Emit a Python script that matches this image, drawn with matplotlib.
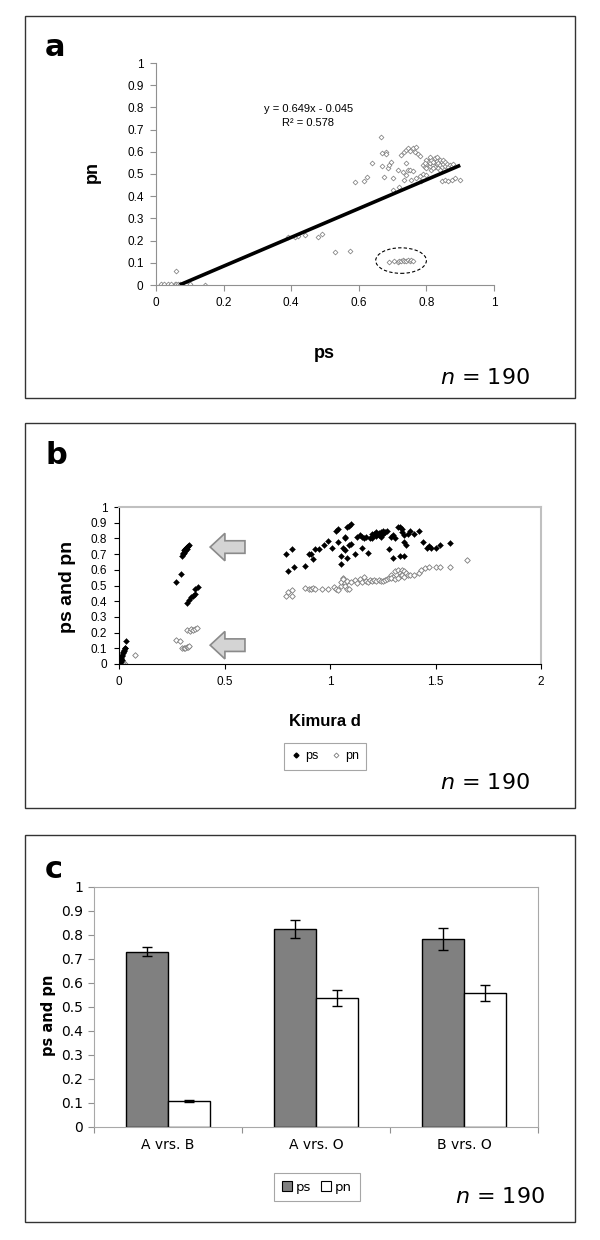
import matplotlib
matplotlib.use("Agg")
import matplotlib.pyplot as plt
from matplotlib.patches import Rectangle, Ellipse, FancyArrow, Patch
from matplotlib.lines import Line2D

# ---------------- data ----------------
# Panel a: ps vs pn
a_ps = [0.015, 0.025, 0.035, 0.045, 0.055, 0.06, 0.065, 0.07, 0.08, 0.09, 0.10, 0.145, 0.06,
        0.39, 0.41, 0.42, 0.44, 0.48, 0.49, 0.53, 0.575,
        0.69, 0.705, 0.715, 0.72, 0.725, 0.73, 0.735, 0.74, 0.745, 0.75, 0.755, 0.76,
        0.59, 0.615, 0.625, 0.64, 0.665, 0.67, 0.68, 0.68, 0.67, 0.675, 0.685, 0.69, 0.695, 0.70, 0.70,
        0.715, 0.72, 0.725, 0.73, 0.735, 0.74, 0.745, 0.74, 0.745, 0.75, 0.75, 0.755, 0.76, 0.76,
        0.735, 0.74, 0.765, 0.77, 0.775, 0.78, 0.78, 0.785, 0.79, 0.80, 0.77,
        0.79, 0.795, 0.80, 0.80, 0.805, 0.81, 0.81, 0.815, 0.815, 0.82, 0.82, 0.825, 0.825, 0.83,
        0.83, 0.835, 0.835, 0.84, 0.84, 0.845, 0.845, 0.85, 0.85, 0.855, 0.855, 0.86, 0.865, 0.87,
        0.875, 0.88, 0.81, 0.83, 0.80, 0.795, 0.82, 0.84,
        0.845, 0.855, 0.865, 0.875, 0.885, 0.90]
a_pn = [0.005, 0.005, 0.005, 0.005, 0.005, 0.005, 0.005, 0.005, 0.005, 0.005, 0.003, 0.0, 0.062,
        0.215, 0.215, 0.22, 0.225, 0.215, 0.23, 0.148, 0.152,
        0.105, 0.108, 0.105, 0.11, 0.108, 0.112, 0.11, 0.108, 0.112, 0.108, 0.112, 0.11,
        0.465, 0.47, 0.485, 0.55, 0.665, 0.595, 0.60, 0.59, 0.535, 0.485, 0.525, 0.54, 0.555, 0.48, 0.43,
        0.52, 0.44, 0.585, 0.51, 0.60, 0.61, 0.615, 0.55, 0.52, 0.52, 0.605, 0.475, 0.615, 0.515,
        0.475, 0.495, 0.60, 0.62, 0.59, 0.58, 0.49, 0.47, 0.50, 0.495, 0.48,
        0.54, 0.53, 0.545, 0.525, 0.56, 0.535, 0.55, 0.52, 0.565, 0.54, 0.555, 0.53, 0.57, 0.545,
        0.56, 0.525, 0.55, 0.565, 0.54, 0.555, 0.53, 0.545, 0.565, 0.535, 0.555, 0.545, 0.53, 0.54,
        0.535, 0.545, 0.575, 0.575, 0.565, 0.55, 0.525, 0.52,
        0.47, 0.472, 0.47, 0.475, 0.48, 0.472]
fit_slope = 0.649
fit_intercept = -0.045
fit_x = [0.07, 0.90]

# Panel b: Kimura d vs ps and pn
b_d_ps = [0.002, 0.005, 0.008, 0.01, 0.012, 0.015, 0.018, 0.02, 0.022, 0.025, 0.027, 0.03, 0.032, 0.01, 0.015,
          0.27, 0.295, 0.30, 0.305, 0.31, 0.312, 0.315, 0.318, 0.32, 0.325, 0.33, 0.32, 0.31, 0.305,
          0.32, 0.33, 0.34, 0.35, 0.36, 0.36, 0.375,
          0.79, 0.80, 0.82, 0.83, 0.88, 0.90, 0.91, 0.92, 0.93, 0.95, 0.97, 0.99, 1.01, 1.03, 1.04,
          1.04, 1.05, 1.05, 1.06, 1.07, 1.07, 1.08, 1.09, 1.10, 1.07, 1.08, 1.09, 1.10, 1.12, 1.13,
          1.14, 1.15, 1.15, 1.16, 1.17, 1.18, 1.19, 1.20, 1.20, 1.21, 1.22, 1.22, 1.23, 1.24, 1.25,
          1.26, 1.27, 1.28, 1.29, 1.30, 1.30, 1.31, 1.32, 1.33, 1.33, 1.34, 1.34, 1.35, 1.35, 1.35,
          1.36, 1.37, 1.38, 1.40, 1.42, 1.44, 1.46, 1.47, 1.48, 1.50, 1.52, 1.57, 1.25, 1.23, 1.24]
b_ps = [0.005, 0.02, 0.03, 0.04, 0.05, 0.06, 0.07, 0.075, 0.08, 0.09, 0.10, 0.105, 0.145, 0.01, 0.025,
        0.525, 0.575, 0.69, 0.70, 0.71, 0.72, 0.73, 0.74, 0.745, 0.75, 0.755, 0.735, 0.725, 0.705,
        0.39, 0.41, 0.425, 0.435, 0.445, 0.48, 0.49,
        0.70, 0.59, 0.73, 0.62, 0.625, 0.70, 0.70, 0.67, 0.73, 0.735, 0.755, 0.785, 0.74, 0.85, 0.86,
        0.78, 0.69, 0.64, 0.74, 0.81, 0.80, 0.87, 0.88, 0.89, 0.725, 0.675, 0.755, 0.765, 0.70, 0.81,
        0.82, 0.81, 0.74, 0.80, 0.81, 0.71, 0.80, 0.83, 0.80, 0.83, 0.84, 0.815, 0.835, 0.84, 0.845,
        0.84, 0.85, 0.73, 0.81, 0.82, 0.675, 0.80, 0.875, 0.87, 0.69, 0.86, 0.84, 0.69, 0.82, 0.78,
        0.76, 0.83, 0.85, 0.83, 0.845, 0.78, 0.74, 0.75, 0.74, 0.74, 0.755, 0.77, 0.83, 0.82, 0.81]
b_d_pn = [0.005, 0.01, 0.015, 0.02, 0.025, 0.03, 0.075, 0.02,
          0.27, 0.29, 0.30, 0.31, 0.315, 0.32, 0.325, 0.33, 0.32, 0.335, 0.34, 0.35, 0.36, 0.37,
          0.79, 0.80, 0.82, 0.82, 0.88, 0.90, 0.91, 0.92, 0.93, 0.96, 0.99, 1.02, 1.03, 1.04, 1.05,
          1.05, 1.06, 1.06, 1.07, 1.07, 1.08, 1.08, 1.09, 1.10, 1.12, 1.13, 1.14, 1.15, 1.16, 1.17,
          1.18, 1.19, 1.20, 1.21, 1.22, 1.23, 1.24, 1.25, 1.26, 1.27, 1.28, 1.29, 1.30, 1.31, 1.32,
          1.33, 1.33, 1.34, 1.34, 1.35, 1.35, 1.36, 1.37, 1.38, 1.40, 1.42, 1.43, 1.45, 1.47, 1.50,
          1.52, 1.57, 1.65, 1.29, 1.31, 1.32]
b_pn = [0.003, 0.0, 0.005, 0.002, 0.005, 0.0, 0.06, 0.01,
        0.15, 0.145, 0.105, 0.10, 0.105, 0.11, 0.108, 0.112, 0.215, 0.21, 0.22, 0.215, 0.225, 0.23,
        0.43, 0.46, 0.435, 0.47, 0.485, 0.48, 0.48, 0.485, 0.48, 0.48, 0.475, 0.49, 0.475, 0.47, 0.50,
        0.525, 0.55, 0.54, 0.515, 0.495, 0.48, 0.53, 0.475, 0.525, 0.535, 0.515, 0.54, 0.52, 0.555, 0.53,
        0.52, 0.535, 0.53, 0.535, 0.53, 0.535, 0.53, 0.53, 0.535, 0.54, 0.55, 0.57, 0.555, 0.59, 0.60,
        0.58, 0.56, 0.60, 0.57, 0.555, 0.59, 0.58, 0.57, 0.565, 0.57, 0.58, 0.60, 0.61, 0.615, 0.62,
        0.615, 0.62, 0.665, 0.545, 0.54, 0.55]
arrow_y = [0.745, 0.12]

# Panel c: bar chart
c_categories = ["A vrs. B", "A vrs. O", "B vrs. O"]
c_ps = [0.731, 0.824, 0.783]
c_ps_err = [0.02, 0.037, 0.046]
c_pn = [0.108, 0.537, 0.557]
c_pn_err = [0.003, 0.034, 0.034]

n_text = "190"

# ---------------- figure ----------------
W, H = 600, 1240
fig = plt.figure(figsize=(W / 100, H / 100), dpi=100)


def fx(px):
    return px / W


def fy(py):
    return 1 - py / H


def ax_rect(x0, y_top, x1, y_bot):
    return [fx(x0), fy(y_bot), fx(x1) - fx(x0), fy(y_top) - fy(y_bot)]


ARIAL = "Liberation Sans"
DV = "DejaVu Sans"

# panel boxes
for (x0, y0, x1, y1) in [(25, 16, 575, 398), (25, 423, 575, 808), (25, 835, 575, 1222)]:
    fig.patches.append(Rectangle((fx(x0), fy(y1)), fx(x1) - fx(x0), fy(y0) - fy(y1),
                                 transform=fig.transFigure, fill=False,
                                 edgecolor="#333333", linewidth=1.0))

# ---------- panel a ----------
axa = fig.add_axes(ax_rect(156, 63, 494, 285))
axa.scatter(a_ps, a_pn, marker="D", s=6, facecolors="white", edgecolors="#808080",
            linewidths=0.55, zorder=2)
xs = fit_x
ys = [fit_slope * v + fit_intercept for v in xs]
axa.plot(xs, ys, color="black", linewidth=2.6, zorder=3, solid_capstyle="butt")
axa.add_patch(Ellipse((0.725, 0.11), 0.15, 0.115, fill=False, linestyle=(0, (3, 2)),
                      linewidth=0.8, edgecolor="black"))
axa.text(0.45, 0.795, "y = 0.649x - 0.045", ha="center", va="center", fontsize=8, family=ARIAL)
axa.text(0.45, 0.73, "R² = 0.578", ha="center", va="center", fontsize=8, family=ARIAL)
axa.set_xlim(0, 1)
axa.set_ylim(0, 1)
axa.set_xticks([0, 0.2, 0.4, 0.6, 0.8, 1])
axa.set_xticklabels(["0", "0.2", "0.4", "0.6", "0.8", "1"])
axa.set_yticks([i / 10 for i in range(11)])
axa.set_yticklabels(["0"] + [f"0.{i}" for i in range(1, 10)] + ["1"])
for s in ["top", "right"]:
    axa.spines[s].set_visible(False)
for s in ["left", "bottom"]:
    axa.spines[s].set_color("#909090")
    axa.spines[s].set_linewidth(0.8)
axa.tick_params(direction="out", length=4, width=0.8, color="#909090", labelsize=8.5, pad=5)
for lab in axa.get_xticklabels() + axa.get_yticklabels():
    lab.set_family(ARIAL)
fig.text(fx(324), fy(353), "ps", ha="center", va="center", fontsize=13, fontweight="bold", family=ARIAL)
fig.text(fx(92), fy(172), "pn", ha="center", va="center", fontsize=13, fontweight="bold",
         family=ARIAL, rotation=90)
fig.text(fx(45), fy(47), "a", ha="left", va="center", fontsize=22, fontweight="bold", family=DV)
fig.text(fx(440), fy(378), "$\\it{n}$ = " + n_text, ha="left", va="center", fontsize=16, family=DV)

# ---------- panel b ----------
axb = fig.add_axes(ax_rect(119, 507, 541, 664))
axb.scatter(b_d_ps, b_ps, marker="D", s=9, color="black", linewidths=0.3, zorder=3, label="ps")
axb.scatter(b_d_pn, b_pn, marker="D", s=8, facecolors="white", edgecolors="#7a7a7a",
            linewidths=0.6, zorder=2, label="pn")
for yv in arrow_y:
    axb.add_patch(FancyArrow(0.597, yv, -0.095, 0, width=0.08, head_width=0.175,
                             head_length=0.07, length_includes_head=False,
                             facecolor="#d4d4d4", edgecolor="#8a8a8a", linewidth=1.2, zorder=4))
axb.set_xlim(0, 2)
axb.set_ylim(0, 1)
axb.set_xticks([0, 0.5, 1, 1.5, 2])
axb.set_xticklabels(["0", "0.5", "1", "1.5", "2"])
axb.set_yticks([i / 10 for i in range(11)])
axb.set_yticklabels(["0"] + [f"0.{i}" for i in range(1, 10)] + ["1"])
for s in ["top", "right"]:
    axb.spines[s].set_color("#c0c0c0")
    axb.spines[s].set_linewidth(1.5)
for s in ["left", "bottom"]:
    axb.spines[s].set_color("black")
    axb.spines[s].set_linewidth(0.8)
axb.tick_params(direction="out", length=3.5, width=0.8, labelsize=8.5, pad=5)
for lab in axb.get_xticklabels() + axb.get_yticklabels():
    lab.set_family(ARIAL)
fig.text(fx(325), fy(722), "Kimura d", ha="center", va="center", fontsize=12, fontweight="bold", family=ARIAL)
fig.text(fx(68), fy(587), "ps and pn", ha="center", va="center", fontsize=14, fontweight="bold",
         family=ARIAL, rotation=90)
fig.text(fx(45), fy(455), "b", ha="left", va="center", fontsize=22, fontweight="bold", family=DV)
fig.text(fx(440), fy(783), "$\\it{n}$ = " + n_text, ha="left", va="center", fontsize=16, family=DV)
hb = [Line2D([], [], marker="D", linestyle="", color="black", markersize=2.5),
      Line2D([], [], marker="D", linestyle="", markerfacecolor="white", markeredgecolor="#7a7a7a",
             markersize=2.5, markeredgewidth=0.6)]
legb = fig.legend(hb, ["ps", "pn"], loc="center", bbox_to_anchor=(fx(325), fy(756)), ncol=2,
                  frameon=True, fancybox=False, edgecolor="#909090",
                  handlelength=0.8, handletextpad=0.3, columnspacing=1.0, borderpad=0.6,
                  prop={"family": ARIAL, "size": 9})
legb.get_frame().set_linewidth(0.8)

# ---------- panel c ----------
axc = fig.add_axes(ax_rect(94, 887, 538, 1127))
xpos = list(range(len(c_categories)))
bw = 0.285
axc.bar([x - bw / 2 for x in xpos], c_ps, width=bw, color="#808080", edgecolor="black",
        linewidth=1.0, zorder=2)
axc.bar([x + bw / 2 for x in xpos], c_pn, width=bw, color="white", edgecolor="black",
        linewidth=1.0, zorder=2)
axc.errorbar([x - bw / 2 for x in xpos], c_ps, yerr=c_ps_err, fmt="none", ecolor="black",
             elinewidth=1.0, capsize=3.5, capthick=1.0, zorder=3)
axc.errorbar([x + bw / 2 for x in xpos], c_pn, yerr=c_pn_err, fmt="none", ecolor="black",
             elinewidth=1.0, capsize=3.5, capthick=1.0, zorder=3)
axc.set_xlim(-0.5, 2.5)
axc.set_ylim(0, 1)
axc.set_yticks([i / 10 for i in range(11)])
axc.set_yticklabels(["0"] + [f"0.{i}" for i in range(1, 10)] + ["1"])
axc.set_xticks([-0.5, 0.5, 1.5, 2.5])
axc.set_xticklabels([])
axc.set_xticks(xpos, minor=True)
axc.set_xticklabels(c_categories, minor=True)
axc.tick_params(axis="x", which="minor", length=0, labelsize=10, pad=8)
axc.tick_params(axis="x", which="major", direction="out", length=4, color="#909090")
axc.tick_params(axis="y", direction="out", length=4, color="#909090", labelsize=10, pad=4)
for s in ["top", "right", "left", "bottom"]:
    axc.spines[s].set_color("#a8a8a8")
    axc.spines[s].set_linewidth(0.8)
for lab in axc.get_xticklabels(minor=True) + axc.get_yticklabels():
    lab.set_family(DV)
fig.text(fx(48), fy(1015), "ps and pn", ha="center", va="center", fontsize=10.5, fontweight="bold",
         family=DV, rotation=90)
fig.text(fx(45), fy(869), "c", ha="left", va="center", fontsize=22, fontweight="bold", family=DV)
fig.text(fx(455), fy(1197), "$\\it{n}$ = " + n_text, ha="left", va="center", fontsize=16, family=DV)
hc = [Patch(facecolor="#808080", edgecolor="black", linewidth=0.8),
      Patch(facecolor="white", edgecolor="black", linewidth=0.8)]
legc = fig.legend(hc, ["ps", "pn"], loc="center", bbox_to_anchor=(fx(317), fy(1187)), ncol=2,
                  frameon=True, fancybox=False, edgecolor="#909090",
                  handlelength=0.7, handleheight=0.7, handletextpad=0.3, columnspacing=0.8,
                  borderpad=0.6, prop={"family": DV, "size": 9.5})
legc.get_frame().set_linewidth(0.8)

fig.savefig("out.png", dpi=100)
